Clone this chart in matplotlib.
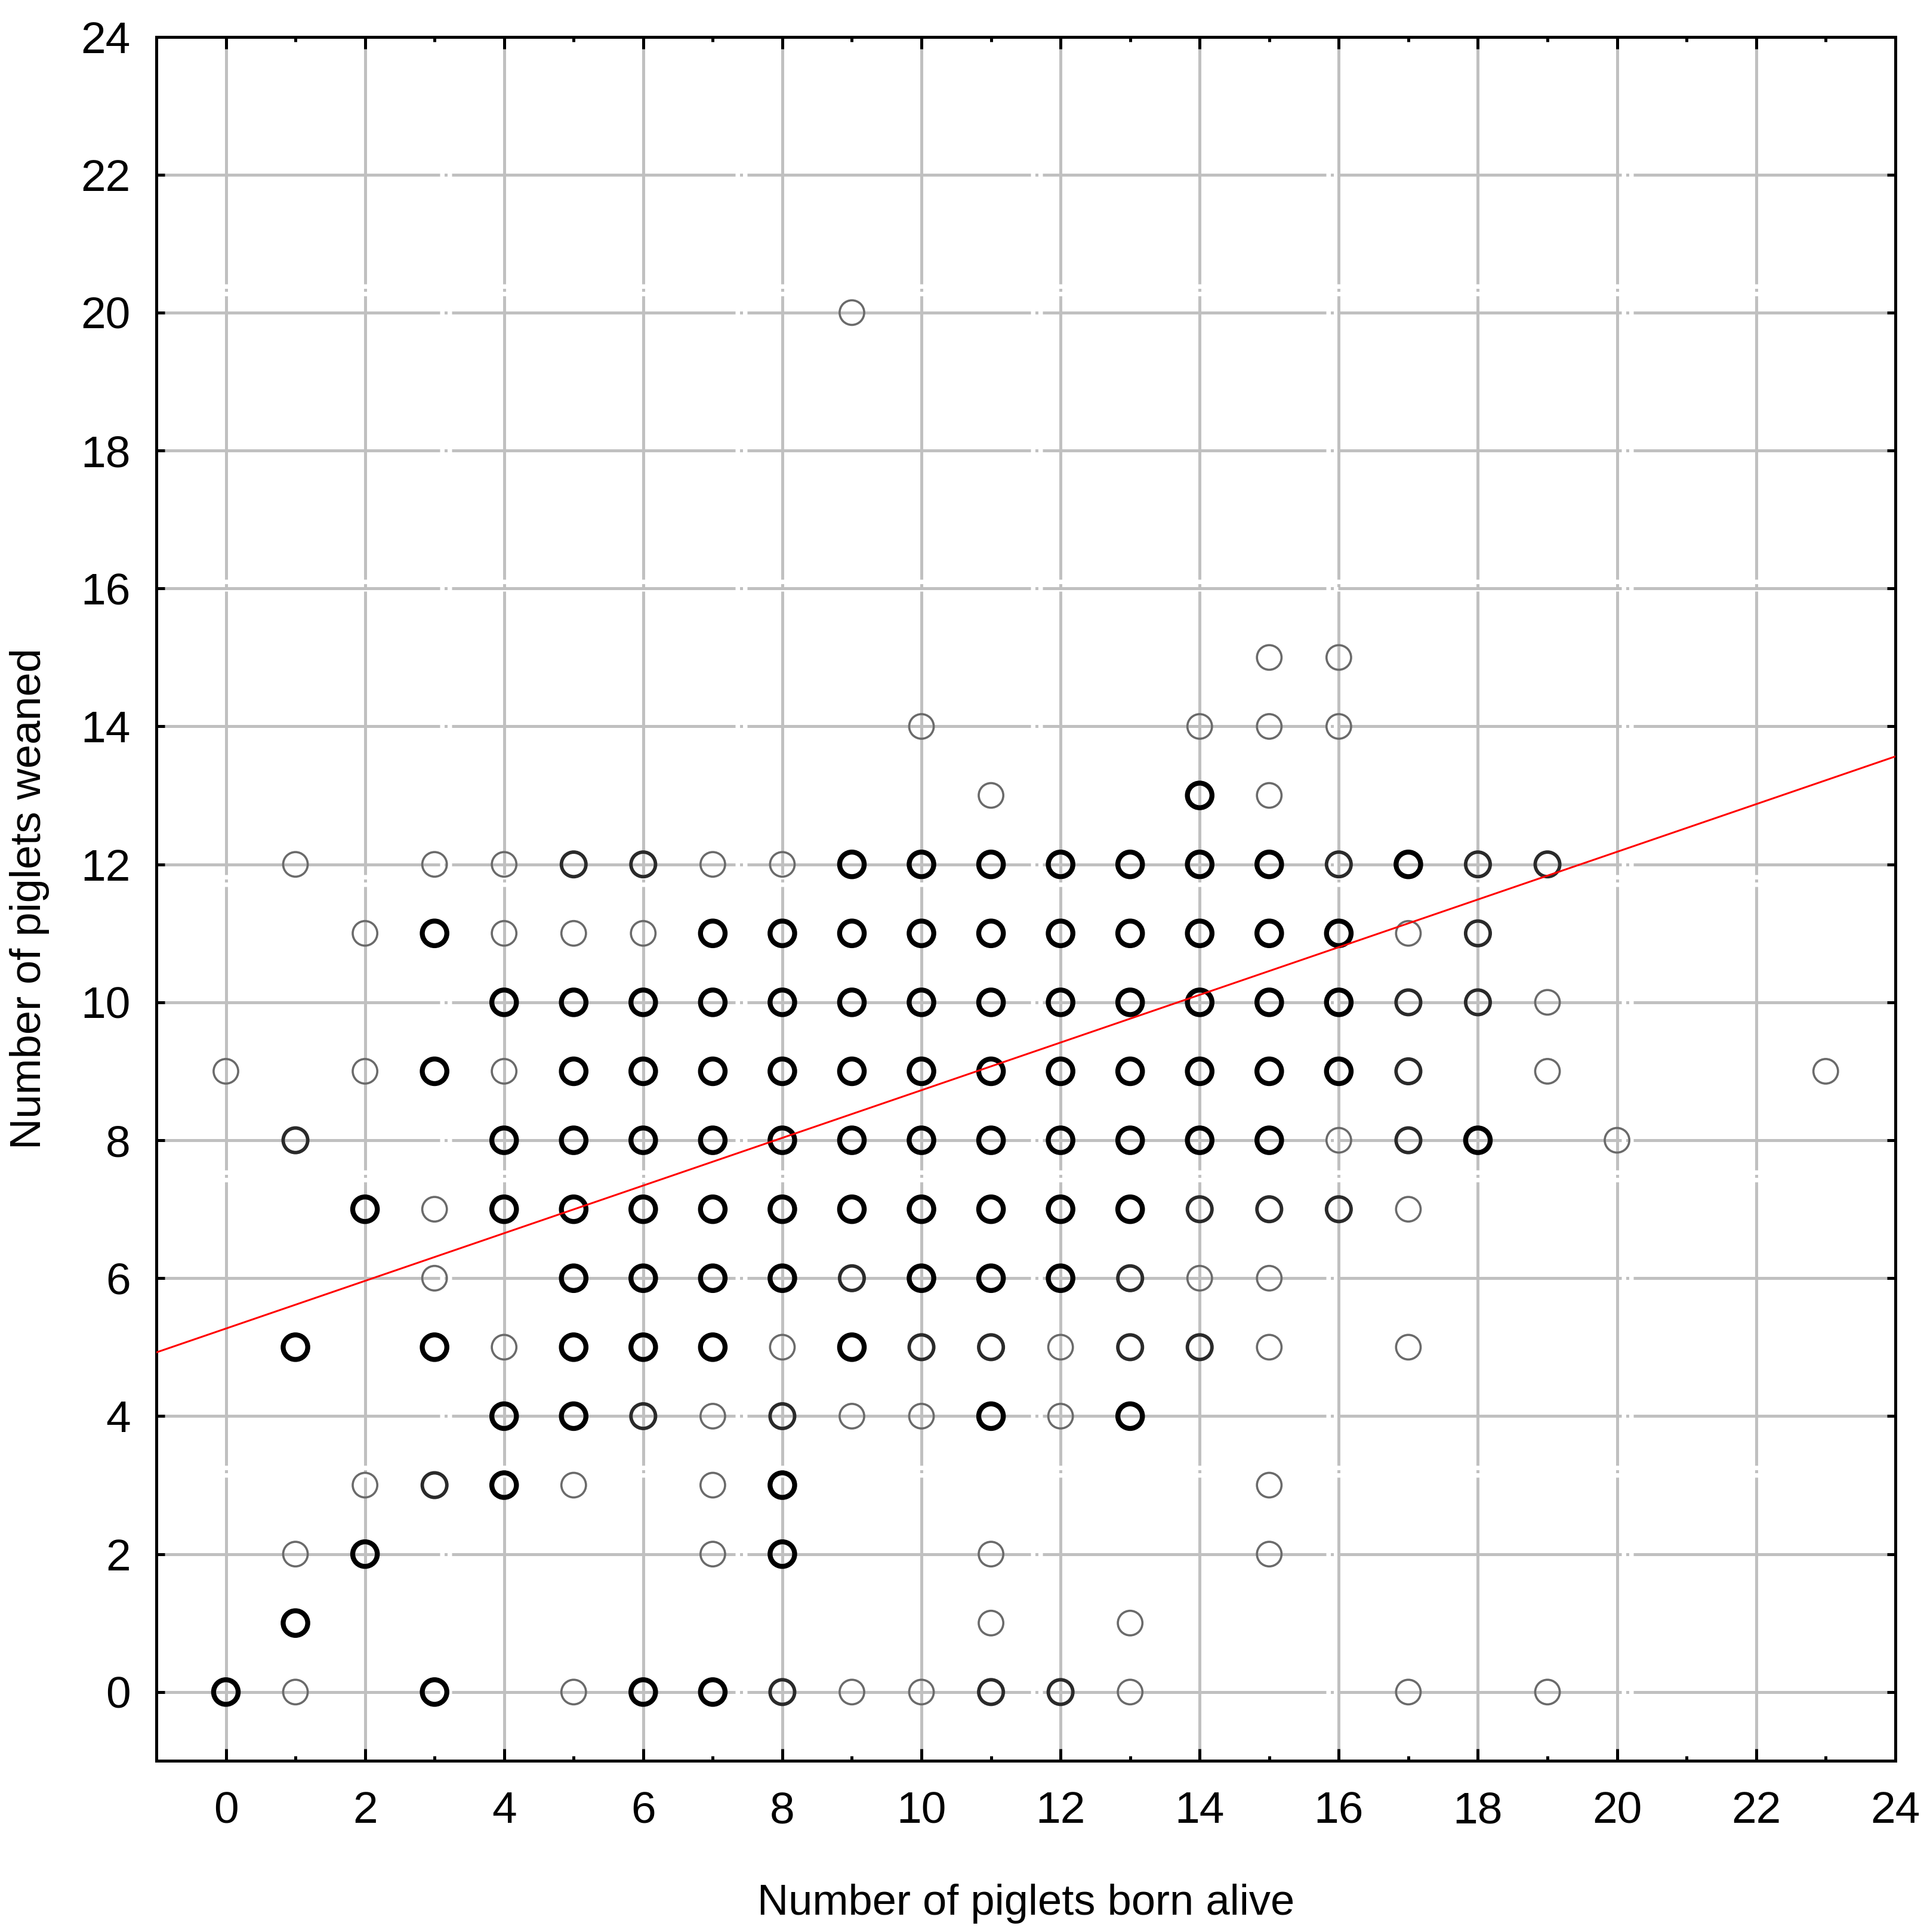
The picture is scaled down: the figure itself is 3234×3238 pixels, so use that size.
import matplotlib
matplotlib.use("Agg")
import matplotlib.pyplot as plt
import numpy as np

# scatter of litters: x = born alive, y = weaned, shade = how much overplotting
born_alive = ([0] * 2 + [1] * 6 + [2] * 5 + [3] * 8 + [4] * 9 + [5] * 11 + [6] * 10 +
              [7] * 12 + [8] * 12 + [9] * 11 + [10] * 11 + [11] * 13 + [12] * 10 +
              [13] * 11 + [14] * 10 + [15] * 13 + [16] * 8 + [17] * 8 + [18] * 4 +
              [19] * 4 + [20] + [23])

weaned = [9, 0,
          12, 8, 5, 2, 1, 0,
          11, 9, 7, 3, 2,
          12, 11, 9, 7, 6, 5, 3, 0,
          12, 11, 10, 9, 8, 7, 5, 4, 3,
          12, 11, 10, 9, 8, 7, 6, 5, 4, 3, 0,
          12, 11, 10, 9, 8, 7, 6, 5, 4, 0,
          12, 11, 10, 9, 8, 7, 6, 5, 4, 3, 2, 0,
          12, 11, 10, 9, 8, 7, 6, 5, 4, 3, 2, 0,
          20, 12, 11, 10, 9, 8, 7, 6, 5, 4, 0,
          14, 12, 11, 10, 9, 8, 7, 6, 5, 4, 0,
          13, 12, 11, 10, 9, 8, 7, 6, 5, 4, 2, 1, 0,
          12, 11, 10, 9, 8, 7, 6, 5, 4, 0,
          12, 11, 10, 9, 8, 7, 6, 5, 4, 1, 0,
          14, 13, 12, 11, 10, 9, 8, 7, 6, 5,
          15, 14, 13, 12, 11, 10, 9, 8, 7, 6, 5, 3, 2,
          15, 14, 12, 11, 10, 9, 8, 7,
          12, 11, 10, 9, 8, 7, 5, 0,
          12, 11, 10, 8,
          12, 10, 9, 0,
          8,
          9]

shade = [1, 3,
         1, 2, 3, 1, 3, 1,
         1, 1, 3, 1, 3,
         1, 3, 3, 1, 1, 3, 2, 3,
         1, 1, 3, 1, 3, 3, 1, 3, 3,
         2, 1, 3, 3, 3, 3, 3, 3, 3, 1, 1,
         2, 1, 3, 3, 3, 3, 3, 3, 2, 3,
         1, 3, 3, 3, 3, 3, 3, 3, 1, 1, 1, 3,
         1, 3, 3, 3, 3, 3, 3, 1, 2, 3, 3, 2,
         1, 3, 3, 3, 3, 3, 3, 2, 3, 1, 1,
         1, 3, 3, 3, 3, 3, 3, 3, 2, 1, 1,
         1, 3, 3, 3, 3, 3, 3, 3, 2, 3, 1, 1, 2,
         3, 3, 3, 3, 3, 3, 3, 1, 1, 2,
         3, 3, 3, 3, 3, 3, 2, 2, 3, 1, 1,
         1, 3, 3, 3, 3, 3, 3, 2, 1, 2,
         1, 1, 1, 3, 3, 3, 3, 3, 2, 1, 1, 1, 1,
         1, 1, 2, 3, 3, 3, 1, 2,
         3, 1, 2, 2, 2, 1, 1, 1,
         2, 2, 2, 3,
         2, 1, 1, 1,
         1,
         1]

# fitted regression line
fit_intercept = 5.27
fit_slope = 0.3456

born_alive = np.array(born_alive)
weaned = np.array(weaned)
shade = np.array(shade)

plt.rcParams['font.family'] = ['Liberation Sans', 'DejaVu Sans']

fig = plt.figure(figsize=(32.34, 32.38), dpi=100)
ax = fig.add_axes([0.081, 0.0885, 0.901, 0.8925])

ax.set_xlim(-1, 24)
ax.set_ylim(-1, 24)

# grid (long dashes with the odd small break)
ax.set_axisbelow(True)
ax.grid(True, color="#c0c0c0", linewidth=3.6, linestyle=(0, (95, 1.5, 1, 1.5)))

# circles, darker where many litters overlap
edge_colors = {1: "#6a6a6a", 2: "#2a2a2a", 3: "#000000"}
edge_widths = {1: 2.6, 2: 4.2, 3: 6.0}
for level in [1, 2, 3]:
    m = shade == level
    ax.scatter(born_alive[m], weaned[m], s=880, facecolors="none",
               edgecolors=edge_colors[level], linewidths=edge_widths[level], zorder=3)

# regression line
xl = np.array([-1, 24])
ax.plot(xl, fit_intercept + fit_slope * xl, color="red", linewidth=2.2, zorder=4)

# ticks
ax.set_xticks(range(0, 25, 2))
ax.set_xticks(range(1, 25, 2), minor=True)
ax.set_yticks(range(0, 25, 2))
ax.tick_params(axis="x", which="major", direction="in", length=14.5, width=3.6,
               top=True, labelsize=54, pad=36)
ax.tick_params(axis="x", which="minor", direction="in", length=6, width=3.6, top=True)
ax.tick_params(axis="y", which="major", direction="in", length=10, width=3.6,
               right=True, labelsize=54, pad=31)

for s in ax.spines.values():
    s.set_linewidth(3.6)
    s.set_color("black")

ax.set_xlabel("Number of piglets born alive", fontsize=52, labelpad=62)
ax.set_ylabel("Number of piglets weaned", fontsize=52, labelpad=38)

plt.savefig("out.png", dpi=100)
